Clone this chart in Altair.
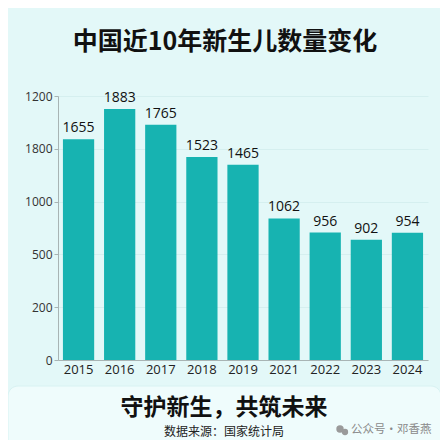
import altair as alt
import pandas as pd

# ---- data ----
YEARS = ["2015", "2016", "2017", "2018", "2019", "2021", "2022", "2023", "2024"]
BIRTHS = [1655, 1883, 1765, 1523, 1465, 1062, 956, 902, 954]
Y_TICK_VALUES = [0, 396, 792, 1188, 1584, 1980]
Y_TICK_LABELS = ["0", "200", "500", "1000", "1800", "1200"]
TITLE = "中国近10年新生儿数量变化"
SLOGAN = "守护新生，共筑未来"
SOURCE = "数据来源：国家统计局"
WATERMARK = "公众号·邓香燕"

df = pd.DataFrame({"year": YEARS, "births": BIRTHS})

CJK = "Noto Sans CJK SC"
NUM = "Open Sans"
BAR = "#17B3B1"

label_expr = "".join(
    f"datum.value == {v} ? '{l}' : " for v, l in zip(Y_TICK_VALUES, Y_TICK_LABELS)
) + "''"

x_enc = alt.X(
    "year:N",
    sort=YEARS,
    scale=alt.Scale(paddingInner=0.24, paddingOuter=0.12),
    axis=alt.Axis(
        title=None, labelAngle=0, labelFont=NUM, labelFontSize=13,
        labelColor="#222222", ticks=False, domainColor="#A8B4B4",
        labelPadding=3,
    ),
)
y_enc = alt.Y(
    "births:Q",
    scale=alt.Scale(domain=[0, 1980], nice=False),
    axis=alt.Axis(
        title=None, values=Y_TICK_VALUES, labelExpr=label_expr,
        labelFont=NUM, labelFontSize=12, labelColor="#333333",
        domainColor="#A8B4B4", tickColor="#A8B4B4", tickSize=4,
        labelPadding=2, grid=True, gridColor="#D2ECEC", gridWidth=0.8,
    ),
)

base = alt.Chart(df)

bars = base.mark_bar(color=BAR).encode(x=x_enc, y=y_enc)
values = base.mark_text(
    font=NUM, fontSize=14, color="#111111", baseline="bottom", dy=-4
).encode(x=x_enc, y=y_enc, text="births:Q")

# decorative bottom panel
panel = alt.Chart(pd.DataFrame({"k": [0]})).mark_rect(
    fill="#EFFCFC", cornerRadius=10, stroke="#D8F2F2", strokeWidth=1
).encode(
    x=alt.value(-50), x2=alt.value(383), y=alt.value(290), y2=alt.value(360)
)


def text_layer(txt, x, y, size, weight="normal", color="#111111", align="center", font=CJK):
    return alt.Chart(pd.DataFrame({"t": [txt]})).mark_text(
        font=font, fontSize=size, fontWeight=weight, color=color,
        align=align, baseline="middle"
    ).encode(text="t:N", x=alt.value(x), y=alt.value(y))


title = text_layer(TITLE, 167, -54, 25, weight="bold")
slogan = text_layer(SLOGAN, 166, 312, 23, weight="bold")
source = text_layer(SOURCE, 166, 336, 12, color="#222222")
wm = text_layer(WATERMARK, 293, 334, 11.5, color="#8A8A8A", align="left")

icon = alt.Chart(pd.DataFrame({"k": [0]})).mark_point(
    filled=True, color="#9A9A9A", opacity=1
).encode(
    x=alt.value(282), y=alt.value(333), size=alt.value(55)
)
icon2 = alt.Chart(pd.DataFrame({"k": [0]})).mark_point(
    filled=True, color="#9A9A9A", opacity=1
).encode(
    x=alt.value(287), y=alt.value(336), size=alt.value(40)
)

chart = alt.layer(
    panel, bars, values, title, slogan, source, wm, icon, icon2
).properties(
    width=370,
    height=264,
    padding={"left": 50, "top": 88, "right": 12, "bottom": 80},
    autosize=alt.AutoSizeParams(type="none"),
    background="#E3F8F8",
).configure_view(stroke=None)

chart.save("out.html", embed_options={"renderer": "svg", "actions": False})
